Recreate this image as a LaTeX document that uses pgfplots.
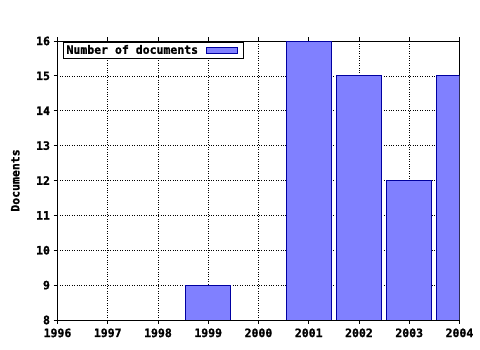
\documentclass[border=0pt]{standalone}
\usepackage{pgfplots}
\pgfplotsset{compat=1.18}
\usepackage{fontspec}
\setmainfont{DejaVu Sans Mono}[BoldFont={DejaVu Sans Mono Bold}, BoldFeatures={FakeBold=1.2}]
\definecolor{barfill}{HTML}{8080FF}
\definecolor{baredge}{HTML}{0000A0}
\newcommand{\lblfont}{\fontsize{11.5}{12}\selectfont\bfseries}
\begin{document}
\begin{tikzpicture}[x=1pt,y=1pt]
\path[use as bounding box] (0,0) rectangle (480,350);
\begin{axis}[
  at={(57.5pt,30pt)}, anchor=south west,
  scale only axis, width=402pt, height=279pt,
  xmin=1996, xmax=2004, ymin=8, ymax=16,
  xtick={1996,...,2004}, ytick={8,...,16},
  minor x tick num=3,
  ytick pos=left,
  tick align=outside,
  major tick length=4pt, minor tick length=2pt,
  tick style={black, line width=0.8pt},
  tick label style={font=\lblfont},
  xticklabel style={yshift=-1pt},
  /pgf/number format/assume math mode=true,
  /pgf/number format/1000 sep={},
  xmajorgrids, ymajorgrids,
  grid style={black, dotted, line width=0.7pt},
  axis line style={black, line width=0.8pt},
  ylabel={Documents},
  ylabel style={font=\lblfont, at={(axis description cs:-0.105,0.5)}, anchor=center},
  legend style={at={(axis cs:1996.12,15.97)}, anchor=north west, font=\lblfont, draw=black, line width=0.8pt, inner sep=1pt, outer sep=0pt, legend cell align=left},
  legend plot pos=right,
  legend image code/.code={\path[draw=none,fill=none] (0pt,0pt) rectangle (42pt,1pt); \draw[#1, line width=0.8pt] (6pt,-3pt) rectangle (37pt,3pt);},
  clip=true,
]
\addplot[ybar, bar width=0.9, fill=barfill, draw=baredge, line width=0.8pt, bar shift=0pt]
  coordinates {(1999,9) (2001,16) (2002,15) (2003,12) (2004,15)};
\addlegendentry{Number of documents}
\end{axis}
\end{tikzpicture}
\end{document}
